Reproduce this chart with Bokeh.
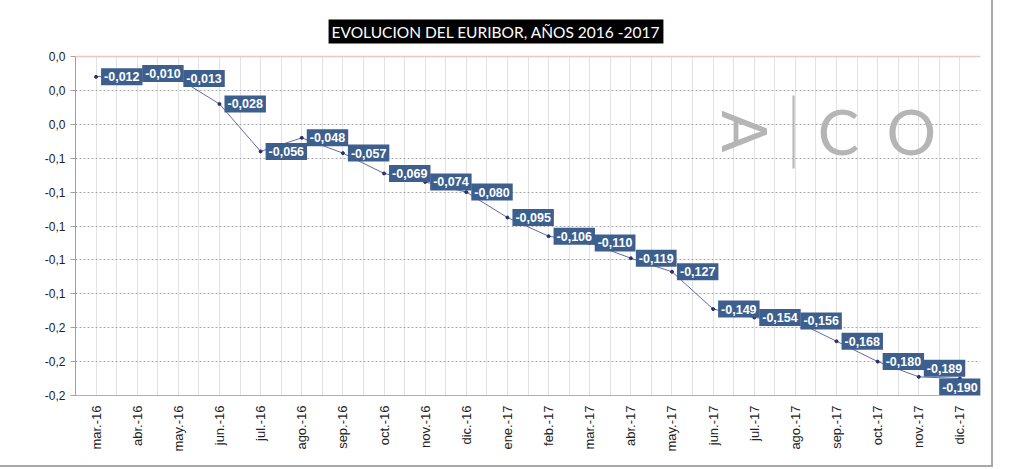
import math
from bokeh.plotting import figure
from bokeh.models import (Range1d, FixedTicker, Label, ColumnDataSource,
                          Span, BoxAnnotation)
from bokeh.core.properties import value
from bokeh.embed import file_html
from bokeh.resources import INLINE

months = ["mar.-16", "abr.-16", "may.-16", "jun.-16", "jul.-16", "ago.-16", "sep.-16",
          "oct.-16", "nov.-16", "dic.-16", "ene.-17", "feb.-17", "mar.-17", "abr.-17",
          "may.-17", "jun.-17", "jul.-17", "ago.-17", "sep.-17", "oct.-17", "nov.-17",
          "dic.-17"]
euribor = [-0.012, -0.010, -0.013, -0.028, -0.056, -0.048, -0.057, -0.069, -0.074,
           -0.080, -0.095, -0.106, -0.110, -0.119, -0.127, -0.149, -0.154, -0.156,
           -0.168, -0.180, -0.189, -0.190]
y_ticks = [0.0, -0.02, -0.04, -0.06, -0.08, -0.10, -0.12, -0.14, -0.16, -0.18, -0.20]
y_tick_labels = ["0,0", "0,0", "0,0", "-0,1", "-0,1", "-0,1", "-0,1", "-0,1",
                 "-0,2", "-0,2", "-0,2"]
title_text = "EVOLUCION DEL EURIBOR, AÑOS 2016 -2017"

n = len(months)
xs = [i + 0.5 for i in range(n)]
value_text = [("%.3f" % v).replace(".", ",") for v in euribor]

# the frame reaches the top of the canvas; the band above 0 holds the title
y_top = 0.03304
p = figure(width=993, height=467, output_backend="svg", toolbar_location=None,
           x_range=Range1d(0, n), y_range=Range1d(-0.2, y_top),
           min_border_left=75, min_border_right=13, min_border_top=0,
           min_border_bottom=72)
p.styles = {"border-right": "2px solid #a8a8a8", "border-bottom": "2px solid #a8a8a8"}
p.outline_line_color = None
p.background_fill_color = "white"
p.border_fill_color = "white"

# axes
p.xaxis.ticker = FixedTicker(ticks=xs)
p.xaxis.major_label_overrides = {x: m for x, m in zip(xs, months)}
p.xaxis.major_label_orientation = math.pi / 2
p.xaxis.major_tick_out = 0
p.xaxis.major_tick_in = 0
p.xaxis.minor_tick_out = 0
p.xaxis.minor_tick_in = 0
p.xaxis.axis_line_color = "#b0b0b0"
p.xaxis.major_label_standoff = 10
p.xaxis.major_label_text_font = "Liberation Sans"
p.xaxis.major_label_text_font_size = "13px"
p.xaxis.major_label_text_color = "#222222"

p.yaxis.ticker = FixedTicker(ticks=y_ticks)
p.yaxis.bounds = (-0.2, 0.0)
p.yaxis.major_label_overrides = {t: l for t, l in zip(y_ticks, y_tick_labels)}
p.yaxis.major_tick_out = 5
p.yaxis.major_tick_in = 0
p.yaxis.minor_tick_out = 0
p.yaxis.minor_tick_in = 0
p.yaxis.axis_line_color = "#a0a0a0"
p.yaxis.major_tick_line_color = "#a0a0a0"
p.yaxis.major_label_standoff = 5
p.yaxis.major_label_text_font = "Liberation Sans"
p.yaxis.major_label_text_font_size = "12px"
p.yaxis.major_label_text_color = "#222222"

# grids
p.xgrid.ticker = FixedTicker(ticks=[k * 0.5 for k in range(1, 2 * n)])
p.xgrid.grid_line_color = "#e2e2e2"
p.xgrid.grid_line_width = 1
p.ygrid.ticker = FixedTicker(ticks=y_ticks[1:-1])
p.ygrid.grid_line_color = "#a8a8a8"
p.ygrid.grid_line_dash = "2 2"
p.ygrid.grid_line_width = 1

# white band above the plot area (hides grid lines there)
p.add_layout(BoxAnnotation(bottom=0.0, fill_color="white", fill_alpha=1,
                           line_color=None, level="glyph"))
p.add_layout(Span(location=0.0, dimension="width", line_color="#f4c4c4", line_width=1.5))

# title
p.add_layout(Label(x=10.222, y=0.01475, text=title_text, text_align="center",
                   text_baseline="middle", text_font="Lato", text_font_size="15.5px",
                   text_color="white", background_fill_color="black",
                   background_fill_alpha=1, padding=3))

# logo (decoration)
logo_color = "#b5b5b5"
p.add_layout(Label(x=16.29, y=-0.0443, text="A", angle=-math.pi / 2, text_align="center",
                   text_baseline="middle", text_font="Lato", text_font_size="62px",
                   text_color=logo_color))
p.add_layout(BoxAnnotation(left=17.43, right=17.48, top=-0.0230, bottom=-0.0661,
                           fill_color=logo_color, fill_alpha=1, line_color=None))
p.add_layout(Label(x=18.55, y=-0.0437, text="C", text_align="center",
                   text_baseline="middle", text_font="Lato", text_font_size="62px",
                   text_color=logo_color))
p.add_layout(Label(x=20.32, y=-0.0437, text="O", text_align="center",
                   text_baseline="middle", text_font="Lato", text_font_size="62px",
                   text_color=logo_color))

# data
src = ColumnDataSource(dict(x=xs, y=euribor, t=value_text))
p.line("x", "y", source=src, line_color="#3b3f8f", line_width=0.8)
p.scatter("x", "y", source=src, size=3, color="#27306f")

label_style = dict(text_font=value("Liberation Sans"), text_font_style="bold",
                   text_font_size="12.5px", text_color="white",
                   background_fill_color="#3d5f8e", background_fill_alpha=1,
                   padding=(3, 4))
# labels to the right of their point; the last two are nudged to avoid overlapping
src_main = ColumnDataSource(dict(x=xs[:-2], y=euribor[:-2], t=value_text[:-2]))
src_pen = ColumnDataSource(dict(x=xs[-2:-1], y=euribor[-2:-1], t=value_text[-2:-1]))
src_last = ColumnDataSource(dict(x=xs[-1:], y=euribor[-1:], t=value_text[-1:]))
p.text("x", "y", text="t", source=src_main, x_offset=5,
       text_align="left", text_baseline="middle", **label_style)
p.text("x", "y", text="t", source=src_pen, x_offset=5,
       text_align="left", text_baseline="bottom", **label_style)
p.text("x", "y", text="t", source=src_last, x_offset=0,
       text_align="center", text_baseline="top", **label_style)

open("out.html", "w").write(file_html(p, INLINE))
